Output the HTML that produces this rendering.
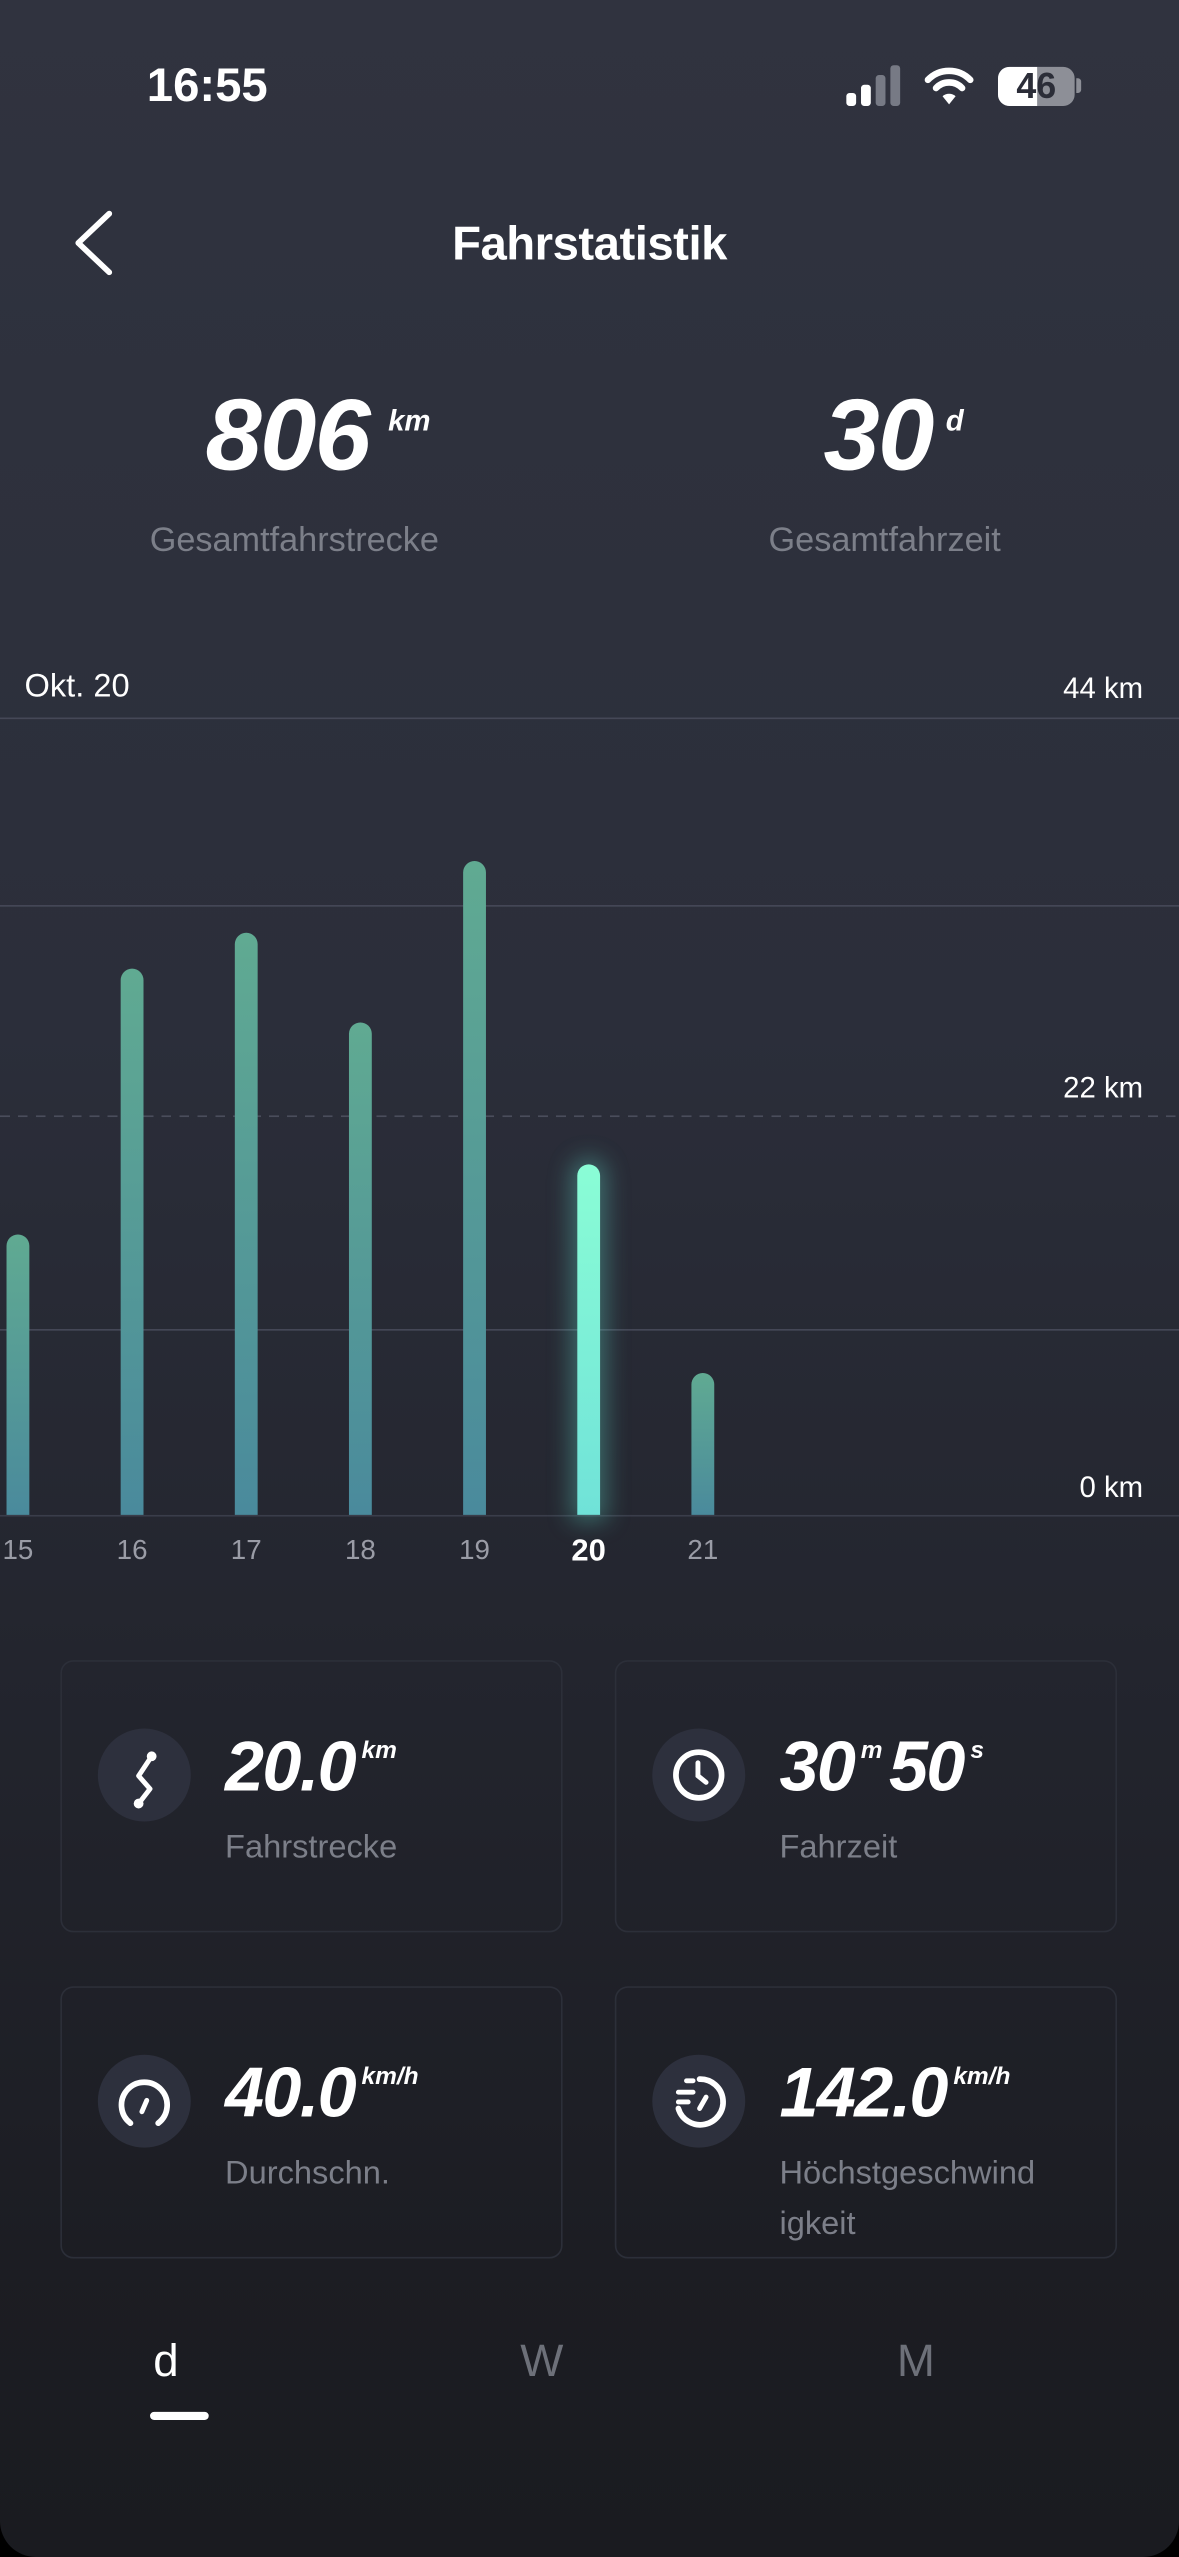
<!DOCTYPE html>
<html><head><meta charset="utf-8"><style>
html,body{margin:0;padding:0;width:1179px;height:2556px;overflow:hidden;background:#000;}
#s{position:absolute;left:0;top:0;width:723px;height:1568px;transform:scale(1.63071);transform-origin:0 0;
background:linear-gradient(#30333f 0%,#2b2e3a 40%,#23252e 65%,#1c1d23 88%,#1a1b20 100%);font-family:"Liberation Sans",sans-serif;color:#fff;overflow:hidden;border-radius:0 0 22px 22px;}
.a{position:absolute;white-space:nowrap;}
.num{font-weight:bold;font-style:italic;letter-spacing:-1px;}
.sup{font-weight:bold;font-style:italic;}
.g{color:#7c7f89;}
.line{position:absolute;left:0;width:723px;height:1px;background:#454857;}
.bar{position:absolute;width:14px;border-radius:7px 7px 0 0;background:linear-gradient(#60aa92,#4a8a9c);}
.xl{position:absolute;top:941px;width:40px;text-align:center;font-size:17px;color:#9a9ca6;}
.card{position:absolute;width:308px;height:167px;border:1px solid #2c2f39;border-radius:8px;box-sizing:border-box;}
.ic{position:absolute;left:22px;top:41px;width:57px;height:57px;border-radius:50%;background:#2d303d;}
.val{position:absolute;left:100px;top:41px;font-size:43px;}
.lab{position:absolute;left:100px;top:99px;font-size:20px;color:#7c7f89;line-height:31px;}
</style></head><body><div id="s">
<div class="a" style="left:90px;top:37px;font-size:29px;font-weight:bold;">16:55</div>
<div class="a" style="left:519px;top:57px;width:6px;height:8px;background:#fff;border-radius:2px"></div>
<div class="a" style="left:528px;top:52px;width:6px;height:13px;background:#fff;border-radius:2px"></div>
<div class="a" style="left:537px;top:46px;width:6px;height:19px;background:#777a85;border-radius:2px"></div>
<div class="a" style="left:546px;top:40px;width:6px;height:25px;background:#777a85;border-radius:2px"></div>
<svg class="a" style="left:567px;top:40px" width="30" height="25" viewBox="0 0 30 25"><path d="M2 9 A18 18 0 0 1 28 9" stroke="#fff" stroke-width="4" fill="none" stroke-linecap="round"/><path d="M7 14 A11 11 0 0 1 23 14" stroke="#fff" stroke-width="4" fill="none" stroke-linecap="round"/><path d="M11 19 L15 24 L19 19 A6 6 0 0 0 11 19Z" fill="#fff"/></svg>
<div class="a" style="left:612px;top:41px;width:47px;height:24px;border-radius:7px;background:#8d8f97;overflow:hidden"><div style="width:24px;height:24px;background:#fff"></div></div>
<div class="a" style="left:612px;top:40px;width:47px;text-align:center;font-size:22px;font-weight:bold;color:#2b2d38;">46</div>
<div class="a" style="left:660px;top:48px;width:3px;height:9px;background:#8d8f97;border-radius:0 2px 2px 0"></div>
<svg class="a" style="left:40px;top:126px" width="32" height="46"><path d="M27 5 L8 23 L27 41" stroke="#fff" stroke-width="3.5" fill="none" stroke-linecap="round" stroke-linejoin="round"/></svg>
<div class="a" style="left:0;width:723px;top:134px;text-align:center;font-size:29px;font-weight:bold;letter-spacing:-0.3px">Fahrstatistik</div>
<div class="a num" style="left:126px;top:232px;font-size:62px;">806</div>
<div class="a sup" style="left:238px;top:248px;font-size:18px;">km</div>
<div class="a g" style="left:0;width:361px;top:320px;text-align:center;font-size:21px;">Gesamtfahrstrecke</div>
<div class="a num" style="left:505px;top:232px;font-size:62px;">30</div>
<div class="a sup" style="left:580px;top:248px;font-size:18px;">d</div>
<div class="a g" style="left:362px;width:361px;top:320px;text-align:center;font-size:21px;">Gesamtfahrzeit</div>
<div class="a" style="left:15px;top:410px;font-size:20px;">Okt. 20</div>
<div class="a" style="right:22px;top:412px;font-size:18px;">44 km</div>
<div class="a" style="right:22px;top:657px;font-size:18px;">22 km</div>
<div class="a" style="right:22px;top:902px;font-size:18px;">0 km</div>
<div class="line" style="top:440px"></div>
<div class="line" style="top:555px"></div>
<div class="line" style="top:684px;background:repeating-linear-gradient(90deg,#4a4d5b 0 6px,transparent 6px 11px)"></div>
<div class="line" style="top:815px"></div>
<div class="line" style="top:929px;background:#3a3d4a"></div>
<div class="bar" style="left:4px;top:757px;height:172px"></div>
<div class="bar" style="left:74px;top:594px;height:335px"></div>
<div class="bar" style="left:144px;top:572px;height:357px"></div>
<div class="bar" style="left:214px;top:627px;height:302px"></div>
<div class="bar" style="left:284px;top:528px;height:401px"></div>
<div class="bar" style="left:354px;top:714px;height:215px;background:linear-gradient(#8afdd6,#70e2d8);box-shadow:0 0 14px 4px rgba(100,230,210,0.35)"></div>
<div class="bar" style="left:424px;top:842px;height:87px"></div>
<div class="xl" style="left:-9px">15</div><div class="xl" style="left:61px">16</div><div class="xl" style="left:131px">17</div><div class="xl" style="left:201px">18</div><div class="xl" style="left:271px">19</div><div class="xl" style="left:341px;color:#fff;font-weight:bold;font-size:19px">20</div><div class="xl" style="left:411px">21</div>

<div class="card" style="left:37px;top:1018px"><div class="ic"><svg width="57" height="57"><path d="M33 17 L25 29 L32 37 L25 46" stroke="#fff" stroke-width="3" fill="none" stroke-linecap="round" stroke-linejoin="round"/><circle cx="33" cy="17" r="3" fill="#fff"/><circle cx="25" cy="46" r="3" fill="#fff"/></svg></div>
<div class="val"><span class="num">20.0</span><span class="sup" style="font-size:15px;vertical-align:20px;margin-left:4px">km</span></div><div class="lab">Fahrstrecke</div></div>
<div class="card" style="left:377px;top:1018px"><div class="ic"><svg width="57" height="57"><circle cx="28.5" cy="28.5" r="14" stroke="#fff" stroke-width="3.5" fill="none"/><path d="M28 21 V29 L33 33" stroke="#fff" stroke-width="3" fill="none" stroke-linecap="round"/></svg></div>
<div class="val"><span class="num">30</span><span class="sup" style="font-size:15px;vertical-align:20px;margin:0 4px">m</span><span class="num">50</span><span class="sup" style="font-size:15px;vertical-align:20px;margin-left:4px">s</span></div><div class="lab">Fahrzeit</div></div>
<div class="card" style="left:37px;top:1218px"><div class="ic"><svg width="57" height="57"><path d="M20 42 A14 14 0 1 1 37 42" stroke="#fff" stroke-width="3.5" fill="none" stroke-linecap="round"/><path d="M30 28 L27 35" stroke="#fff" stroke-width="3" stroke-linecap="round"/></svg></div>
<div class="val"><span class="num">40.0</span><span class="sup" style="font-size:15px;vertical-align:20px;margin-left:4px">km/h</span></div><div class="lab">Durchschn.</div></div>
<div class="card" style="left:377px;top:1218px"><div class="ic"><svg width="57" height="57"><path d="M29 15 A14 14 0 1 1 16 33" stroke="#fff" stroke-width="3.5" fill="none" stroke-linecap="round"/><path d="M21 16 H25 M16 23 H25 M16 29 H22 M33 26 L29 33" stroke="#fff" stroke-width="3" stroke-linecap="round"/></svg></div>
<div class="val"><span class="num">142.0</span><span class="sup" style="font-size:15px;vertical-align:20px;margin-left:4px">km/h</span></div><div class="lab">Höchstgeschwind<br>igkeit</div></div>

<div class="a" style="left:94px;top:1432px;font-size:28px;">d</div>
<div class="a" style="left:92px;top:1479px;width:36px;height:5px;border-radius:3px;background:#fff"></div>
<div class="a" style="left:319px;top:1432px;font-size:28px;color:#6d7079">W</div>
<div class="a" style="left:550px;top:1432px;font-size:28px;color:#6d7079">M</div>
</div></body></html>
